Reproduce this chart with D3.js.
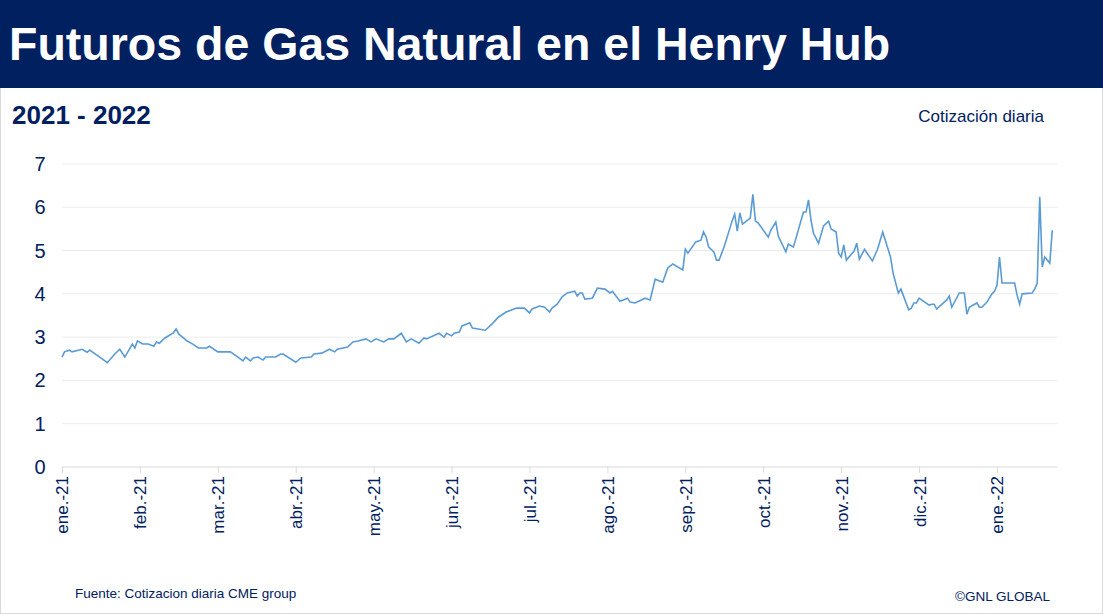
<!DOCTYPE html>
<html><head><meta charset="utf-8">
<script src="https://cdn.jsdelivr.net/npm/d3@7"></script>
<style>body{margin:0;background:#fff}svg{display:block;font-family:"Liberation Sans",Arial,sans-serif}</style>
</head><body><svg id="c" width="1103" height="614"></svg>
<script>
const title = "Futuros de Gas Natural en el Henry Hub";
const subtitle = "2021 - 2022";
const note = "Cotización diaria";
const source = "Fuente: Cotizacion diaria CME group";
const credit = "©GNL GLOBAL";
const monthLabels = ["ene.-21","feb.-21","mar.-21","abr.-21","may.-21","jun.-21","jul.-21","ago.-21","sep.-21","oct.-21","nov.-21","dic.-21","ene.-22"];
const yTicks = [0,1,2,3,4,5,6,7];
// days since 2021-01-01
const days = [0,1,3,4,8,10,11,15,16,18,21,23,25,28,29,30,32,34,36,37,38,40,43,44,45,48,50,52,55,56,59,64,67,69,70,72,73,75,77,78,82,84,85,90,92,96,97,100,103,105,106,110,112,114,117,119,121,124,126,128,131,133,135,138,140,141,146,148,149,151,152,154,155,158,159,164,167,169,172,175,176,179,181,182,185,187,189,190,192,194,196,199,200,201,202,203,206,208,211,213,214,217,220,221,223,227,229,231,234,236,238,242,243,244,247,249,250,251,252,254,255,256,258,261,262,263,264,265,268,269,270,271,275,276,278,279,282,283,285,289,290,291,292,293,295,297,299,300,302,303,304,305,306,309,310,311,313,316,318,320,323,324,326,327,330,331,332,333,334,338,339,340,341,345,346,347,350,352,353,354,357,358,359,361,363,364,365,366,367,368,372,373,374,375,379,380,381,382,383,384,386,387];
const prices = [2.54,2.66,2.70,2.66,2.72,2.65,2.70,2.54,2.50,2.41,2.61,2.72,2.54,2.84,2.75,2.91,2.84,2.84,2.79,2.89,2.86,2.98,3.10,3.19,3.07,2.91,2.84,2.75,2.75,2.79,2.66,2.66,2.54,2.45,2.54,2.45,2.52,2.54,2.47,2.54,2.54,2.61,2.61,2.42,2.52,2.54,2.61,2.63,2.72,2.66,2.72,2.77,2.89,2.91,2.96,2.89,2.96,2.89,2.96,2.96,3.09,2.89,2.96,2.86,2.98,2.96,3.09,3.00,3.09,3.03,3.09,3.12,3.26,3.33,3.21,3.16,3.33,3.46,3.58,3.65,3.67,3.67,3.56,3.65,3.72,3.69,3.58,3.67,3.76,3.93,4.02,4.06,3.95,4.02,4.02,3.88,3.90,4.13,4.11,4.02,4.06,3.83,3.90,3.81,3.79,3.90,3.86,4.34,4.27,4.60,4.69,4.55,5.03,4.94,5.20,5.24,5.43,5.31,5.08,4.97,4.78,4.78,5.10,5.68,5.84,5.45,5.87,5.61,5.75,6.30,5.68,5.64,5.31,5.47,5.66,5.33,4.97,5.15,5.08,5.89,5.89,6.17,5.70,5.40,5.17,5.57,5.68,5.50,5.43,4.94,4.85,5.13,4.78,4.99,5.17,4.80,5.03,4.76,5.03,5.43,4.85,4.48,4.02,4.11,3.63,3.67,3.79,3.79,3.90,3.74,3.76,3.76,3.65,3.86,3.95,3.69,4.02,4.02,3.53,3.69,3.79,3.69,3.69,3.81,4.00,4.06,4.20,4.85,4.25,4.25,4.25,3.97,3.76,4.00,4.02,4.11,4.25,6.24,4.62,4.85,4.71,5.47];

const svg = d3.select("#c");
const navy = "#002060";
svg.append("rect").attr("x",0.5).attr("y",0.5).attr("width",1102).attr("height",613).attr("fill","#fff").attr("stroke","#d9d9d9");
svg.append("rect").attr("x",0).attr("y",0).attr("width",1103).attr("height",88).attr("fill",navy);
svg.append("text").attr("x",9).attr("y",60).attr("fill","#fff").attr("font-size",46.5).attr("font-weight","bold").text(title);
svg.append("text").attr("x",12).attr("y",124).attr("fill",navy).attr("font-size",26).attr("font-weight","bold").text(subtitle);
svg.append("text").attr("x",1044).attr("y",122).attr("text-anchor","end").attr("fill",navy).attr("font-size",17).text(note);
svg.append("text").attr("x",75).attr("y",598).attr("fill",navy).attr("font-size",13.5).text(source);
svg.append("text").attr("x",1050).attr("y",601).attr("text-anchor","end").attr("fill",navy).attr("font-size",13.5).text(credit);

// category-style month axis: each month has equal width
const t0 = new Date(2021,0,1);
const toDate = d => d3.timeDay.offset(t0, d);
const monthPos = date => {
  const m0 = d3.timeMonth.floor(date), m1 = d3.timeMonth.offset(m0,1);
  return d3.timeMonth.count(t0, m0) + (date - m0) / (m1 - m0);
};
const x = d3.scaleLinear().domain([0,12]).range([62,997]);
const xEnd = x(monthPos(toDate(389)));
const y = d3.scaleLinear().domain([0,7]).range([467,164]);

const g = svg.append("g");
g.selectAll("line.grid").data(yTicks.slice(1)).join("line")
 .attr("x1",62).attr("x2",xEnd).attr("y1",d=>y(d)).attr("y2",d=>y(d)).attr("stroke","#ececec");
g.selectAll("text.yl").data(yTicks).join("text")
 .attr("x",40).attr("y",d=>y(d)+7).attr("text-anchor","middle").attr("fill",navy).attr("font-size",20).text(d=>d);

const xAxis = d3.axisBottom(x).tickValues(d3.range(monthLabels.length)).tickSize(6).tickFormat((d,i)=>monthLabels[i]);
const ax = svg.append("g").attr("transform","translate(0,467)").call(xAxis);
ax.select(".domain").attr("stroke","#d9d9d9").attr("d",`M62,0H${xEnd}`);
ax.selectAll(".tick line").attr("stroke","#d9d9d9");
ax.selectAll(".tick text").attr("fill",navy).attr("font-size",17)
  .attr("transform","rotate(-90)").attr("text-anchor","end").attr("x",-9).attr("y",0).attr("dy","0.35em");

const pts = days.map((d,i)=>({p:monthPos(toDate(d)),v:prices[i]}));
svg.append("path").datum(pts).attr("fill","none").attr("stroke","#5b9bd5").attr("stroke-width",1.6)
  .attr("d", d3.line().x(p=>x(p.p)).y(p=>y(p.v)));
</script></body></html>
